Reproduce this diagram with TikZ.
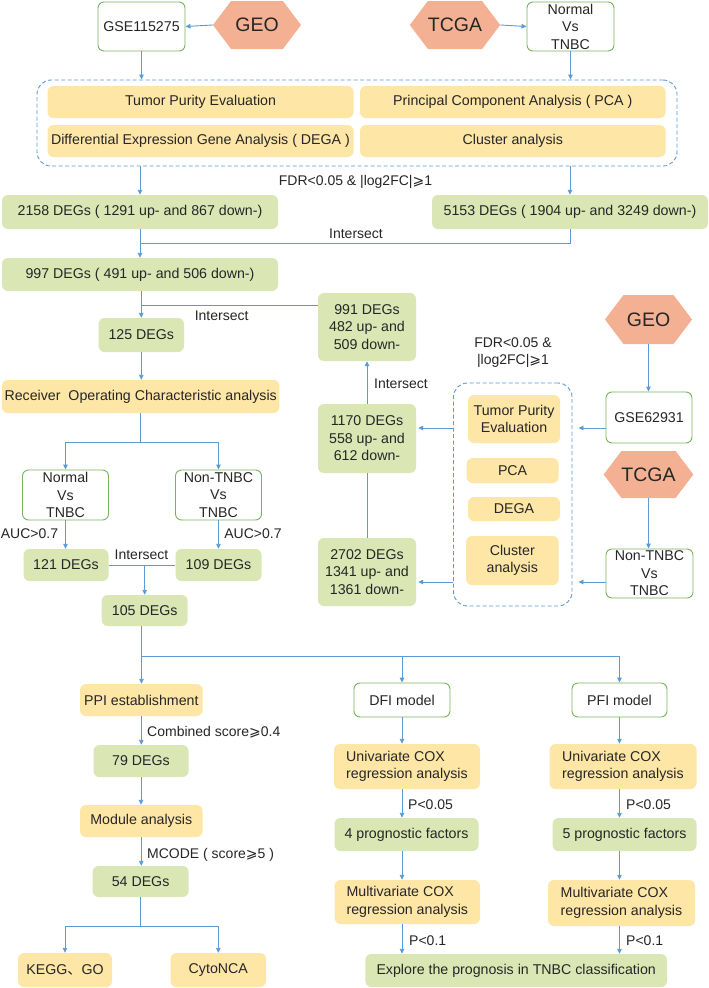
\documentclass[tikz,border=0pt]{standalone}
\usepackage{fontspec}
\setmainfont{Liberation Sans}
\newfontfamily\cjkfont{Noto Sans CJK SC}
\newfontfamily\symfont{DejaVu Sans}
\usetikzlibrary{arrows.meta,shapes.symbols}
\definecolor{gfill}{HTML}{DAE7B5}
\definecolor{yfill}{HTML}{FEE6A6}
\definecolor{hfill}{HTML}{F4B093}
\definecolor{gline}{HTML}{77B55A}
\definecolor{bline}{HTML}{5B9BD5}
\newcommand{\gesl}{{\symfont ⩾}}
\begin{document}
\begin{tikzpicture}[x=1pt,y=-1pt,
  every node/.style={font=\fontsize{14.2}{17.5}\selectfont, inner sep=0pt, text=black!85},
  sz/.style n args={2}{minimum width=#1pt, minimum height=#2pt},
  gbox/.style={fill=gfill, rounded corners=6pt, align=center},
  ybox/.style={fill=yfill, rounded corners=6pt, align=center},
  wbox/.style={draw=gline, line width=0.9pt, fill=white, rounded corners=6pt, align=center},
  hexa/.style={signal, signal to=west and east, signal pointer angle=106, fill=hfill,
    minimum width=88pt, minimum height=48pt, font=\fontsize{19.5}{20}\selectfont},
  dbox/.style={draw=bline, dash pattern=on 4pt off 2.5pt, line width=0.9pt, rounded corners=14pt},
  arr/.style={draw=bline, line width=0.9pt, -{Triangle[length=5pt,width=4.5pt]}},
  ln/.style={draw=bline, line width=0.9pt},
  lab/.style={font=\fontsize{14}{17.5}\selectfont}
]
\fill[white] (0,0) rectangle (709,988);
\useasboundingbox (0,0) rectangle (709,988);

% ---------- top ----------
\node[wbox,sz={87}{49}] (gse1) at (141.5,26.5) {GSE115275};
\node[hexa] (geo1) at (257,25) {GEO};
\node[hexa,minimum width=90pt] (tcga1) at (455,25) {TCGA};
\node[wbox,sz={87}{49}] (nvt1) at (570.5,26.5) {Normal\\Vs\\TNBC};

\node[dbox,sz={640}{86}] (d1) at (357,123) {};
\node[ybox,sz={306}{32}] (tpe1) at (200.5,102) {Tumor Purity Evaluation};
\node[ybox,sz={305.6}{32}] (pca1) at (512.8,102) {Principal Component Analysis ( PCA )};
\node[ybox,sz={306}{32}] (dega1) at (200.5,141) {Differential Expression Gene Analysis ( DEGA )};
\node[ybox,sz={305.6}{32}] (clu1) at (512.8,141) {Cluster analysis};
\node[lab] (fdr1) at (355.5,182) {FDR<0.05 \& |log2FC|\gesl1};

\node[gbox,sz={276}{34}] (d2158) at (140,212) {2158 DEGs ( 1291 up- and 867 down-)};
\node[gbox,sz={276}{34}] (d5153) at (570,212) {5153 DEGs ( 1904 up- and 3249 down-)};
\node[lab] (int1) at (356,234) {Intersect};
\node[gbox,sz={276}{33}] (d997) at (140,274.5) {997 DEGs ( 491 up- and 506 down-)};

% ---------- middle ----------
\node[gbox,sz={98}{68}] (d991) at (367,327) {991 DEGs\\482 up- and\\509 down-};
\node[lab] (int2) at (221.6,316) {Intersect};
\node[gbox,sz={85.4}{34}] (d125) at (141.3,335) {125 DEGs};
\node[hexa,sz={87}{49}] (geo2) at (648.5,319.5) {GEO};
\node[lab,align=center] (fdr2) at (513,352.5) {FDR<0.05 \&\\|log2FC|\gesl1};

\node[ybox,sz={277.5}{33}] (roc) at (140.7,396.5) {Receiver~ Operating Characteristic analysis};
\node[wbox,sz={86}{50}] (nvt2) at (65.5,495) {Normal\\Vs\\TNBC};
\node[wbox,sz={86}{50}] (nont1) at (218.5,495) {Non-TNBC\\Vs\\TNBC};
\node[lab] (auc1) at (29.5,534) {AUC>0.7};
\node[lab] (auc2) at (253,534) {AUC>0.7};
\node[gbox,sz={85}{32}] (d121) at (66,565) {121 DEGs};
\node[gbox,sz={86}{32}] (d109) at (218.5,565) {109 DEGs};
\node[lab] (int3) at (141.5,555) {Intersect};
\node[gbox,sz={86}{31}] (d105) at (144.7,610.5) {105 DEGs};

\node[gbox,sz={98}{69}] (d1170) at (367,438.5) {1170 DEGs\\558 up- and\\612 down-};
\node[gbox,sz={98}{68}] (d2702) at (367,572) {2702 DEGs\\1341 up- and\\1361 down-};
\node[lab] (int4) at (401,384) {Intersect};
\node[dbox,sz={118.5}{223}] (d2) at (512.75,494.5) {};
\node[ybox,sz={92}{48}] (tpe2) at (514,419) {Tumor Purity\\Evaluation};
\node[ybox,sz={92}{25}] (pca2) at (512.6,470.5) {PCA};
\node[ybox,sz={92}{24}] (dega2) at (514,509) {DEGA};
\node[ybox,sz={92.5}{49}] (clu2) at (512.3,560.5) {Cluster\\analysis};
\node[wbox,sz={86}{51}] (gse2) at (649,417.5) {GSE62931};
\node[hexa,sz={87}{47}] (tcga2) at (648.5,474.5) {TCGA};
\node[wbox,sz={87}{49}] (nont2) at (649.5,573.5) {Non-TNBC\\Vs\\TNBC};

% ---------- bottom ----------
\node[ybox,sz={122.6}{32}] (ppi) at (141.3,700) {PPI establishment};
\node[wbox,sz={96}{34}] (dfi) at (402,700) {DFI model};
\node[wbox,sz={95}{34}] (pfi) at (619.5,700) {PFI model};
\node[lab,anchor=west] (comb) at (147,732) {Combined score\gesl0.4};
\node[gbox,sz={95}{32}] (d79) at (141,761) {79 DEGs};
\node[ybox,sz={146}{45},align=left] (unid) at (407,766.5) {Univariate COX\\regression analysis};
\node[ybox,sz={147}{45},align=left] (unip) at (623,766.5) {Univariate COX\\regression analysis};
\node[ybox,sz={122.6}{32}] (mod) at (141.3,821) {Module analysis};
\node[lab,anchor=west] (mcode) at (147,855) {MCODE ( score\gesl5 )};
\node[gbox,sz={96}{31}] (d54) at (140.6,881.5) {54 DEGs};
\node[ybox,sz={94}{34}] (kegg) at (65,970) {KEGG{\cjkfont 、}GO};
\node[ybox,sz={95.5}{34}] (cyto) at (218.3,970) {CytoNCA};
\node[lab,anchor=west] (p05a) at (408,805) {P<0.05};
\node[lab,anchor=west] (p05b) at (626,805) {P<0.05};
\node[gbox,sz={144}{33}] (p4) at (406.5,834.5) {4 prognostic factors};
\node[gbox,sz={144}{33}] (p5) at (624.5,834.5) {5 prognostic factors};
\node[ybox,sz={145.4}{44},align=left] (multd) at (407.3,902) {Multivariate COX\\regression analysis};
\node[ybox,sz={147}{46},align=left] (multp) at (621.5,903) {Multivariate COX\\regression analysis};
\node[lab,anchor=west] (p1a) at (409,941) {P<0.1};
\node[lab,anchor=west] (p1b) at (626,941) {P<0.1};
\node[gbox,sz={301.6}{33}] (expl) at (516.2,970.5) {Explore the prognosis in TNBC classification};

% ---------- connectors ----------
\draw[arr] (geo1.west) -- (gse1.east);
\draw[arr] (tcga1.east) -- (nvt1.west);
\draw[arr] (gse1.south) -- (gse1.south |- d1.north);
\draw[arr] (nvt1.south) -- (nvt1.south |- d1.north);
\draw[arr] (d1.south -| d2158.north) -- (d2158.north);
\draw[arr] (d1.south -| d5153.north) -- (d5153.north);
\coordinate (j1) at (140,243);
\draw[arr] (d2158.south) -- (d997.north);
\draw[ln] (d5153.south) |- (j1);
\coordinate (j2) at (141.3,305);
\draw[arr] (d997.south -| d125.north) -- (d125.north);
\draw[ln] (d991.west |- j2) -- (j2);
\draw[arr] (d125.south) -- (d125.south |- roc.north);
\draw[arr] (roc.south) -- ++(0,29) -| (nvt2.north);
\draw[arr] (roc.south) -- ++(0,29) -| (nont1.north);
\draw[arr] (nvt2.south) -- (nvt2.south |- d121.north);
\draw[arr] (nont1.south) -- (nont1.south |- d109.north);
\draw[ln] (d121.east) -- (d109.west);
\coordinate (j3) at (144.7,565);
\draw[arr] (j3) -- (d105.north);
\coordinate (j4) at (141.5,656);
\draw[arr] (d105.south -| j4) -- (ppi.north -| j4);
\draw[arr] (j4) -| (dfi.north);
\draw[arr] (j4) -| (pfi.north);

\draw[arr] (ppi.south) -- (ppi.south |- d79.north);
\draw[arr] (d79.south) -- (d79.south |- mod.north);
\draw[arr] (mod.south) -- (mod.south |- d54.north);
\draw[arr] (d54.south) -- ++(0,29) -| (kegg.north);
\draw[arr] (d54.south) -- ++(0,29) -| (cyto.north);

\draw[arr] (dfi.south) -- (dfi.south |- unid.north);
\draw[arr] (unid.south -| dfi.south) -- (p4.north -| dfi.south);
\draw[arr] (p4.south -| dfi.south) -- (multd.north -| dfi.south);
\draw[arr] (multd.south -| dfi.south) -- (expl.north -| dfi.south);
\draw[arr] (pfi.south) -- (pfi.south |- unip.north);
\draw[arr] (unip.south -| pfi.south) -- (p5.north -| pfi.south);
\draw[arr] (p5.south -| pfi.south) -- (multp.north -| pfi.south);
\draw[arr] (multp.south -| pfi.south) -- (expl.north -| pfi.south);

\draw[arr] (geo2.south) -- (geo2.south |- gse2.north);
\draw[arr] (tcga2.south) -- (tcga2.south |- nont2.north);
\coordinate (r1) at (0,428);
\coordinate (r2) at (0,582);
\draw[arr,shorten >=6pt] (gse2.west |- r1) -- (d2.east |- r1);
\draw[arr,shorten >=6pt] (nont2.west |- r2) -- (d2.east |- r2);
\draw[arr,shorten >=2pt] (d2.west |- r1) -- (d1170.east |- r1);
\draw[arr,shorten >=2pt] (d2.west |- r2) -- (d2702.east |- r2);
\draw[ln] (d2702.north) -- (d1170.south);
\draw[arr] (d1170.north) -- (d991.south);
\end{tikzpicture}
\end{document}
